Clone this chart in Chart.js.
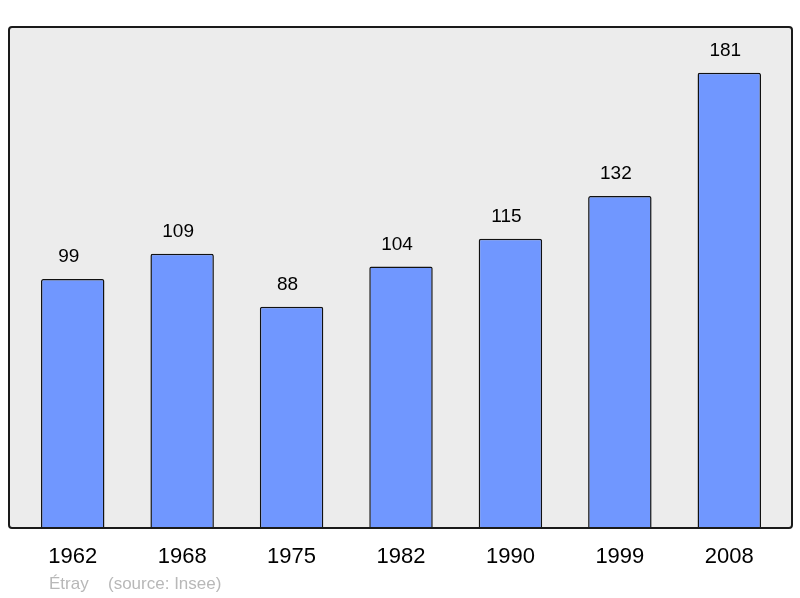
<!DOCTYPE html>
<html>
<head>
<meta charset="utf-8">
<script src="https://cdn.jsdelivr.net/npm/chart.js@4"></script>
<style>
  html, body { margin: 0; padding: 0; background: #fff; }
  #wrap { width: 800px; height: 598px; }
</style>
</head>
<body>
<div id="wrap"><canvas id="popChart" width="800" height="598"></canvas></div>
<script>
const years = ['1962', '1968', '1975', '1982', '1990', '1999', '2008'];
const population = [99, 109, 88, 104, 115, 132, 181];
const townName = 'Étray';
const sourceNote = '(source: Insee)';

const FONT = '"Liberation Sans", Arial, sans-serif';

// frame + labels drawn around the bars
const framePlugin = {
  id: 'frame',
  beforeDatasetsDraw(chart) {
    const ctx = chart.ctx;
    ctx.save();
    ctx.beginPath();
    ctx.roundRect(9, 27, 783, 501, 3);
    ctx.fillStyle = '#ececec';
    ctx.fill();
    ctx.restore();
  },
  afterDatasetsDraw(chart) {
    const ctx = chart.ctx;
    const meta = chart.getDatasetMeta(0);
    const xScale = chart.scales.x;
    ctx.save();
    ctx.beginPath();
    ctx.roundRect(9, 27, 783, 501, 3);
    ctx.lineWidth = 2;
    ctx.strokeStyle = '#1a1a1a';
    ctx.stroke();

    ctx.fillStyle = '#000';
    ctx.textAlign = 'center';
    ctx.textBaseline = 'middle';
    ctx.font = '19px ' + FONT;
    meta.data.forEach((bar, i) => {
      ctx.fillText(String(population[i]), bar.x - 4, bar.y - 22);
    });

    ctx.font = '22px ' + FONT;
    years.forEach((y, i) => {
      ctx.fillText(y, xScale.getPixelForValue(i), 557);
    });

    ctx.textAlign = 'left';
    ctx.fillStyle = '#b8b8b8';
    ctx.font = '17px ' + FONT;
    ctx.fillText(townName, 49, 584);
    ctx.fillText(sourceNote, 108, 584);
    ctx.restore();
  }
};

new Chart(document.getElementById('popChart'), {
  type: 'bar',
  data: {
    labels: years,
    datasets: [{
      data: population,
      backgroundColor: '#7097ff',
      borderColor: '#111',
      borderWidth: 1.5,
      borderRadius: 2,
      borderSkipped: 'bottom',
      categoryPercentage: 1,
      barPercentage: 0.58,
    }],
  },
  options: {
    responsive: false,
    animation: false,
    layout: { padding: { left: 18, right: 16, top: 25, bottom: 70 } },
    scales: {
      x: { display: false },
      y: { display: false, min: 0, max: 200 },
    },
    plugins: {
      legend: { display: false },
      tooltip: { enabled: false },
    },
  },
  plugins: [framePlugin],
});
</script>
</body>
</html>
